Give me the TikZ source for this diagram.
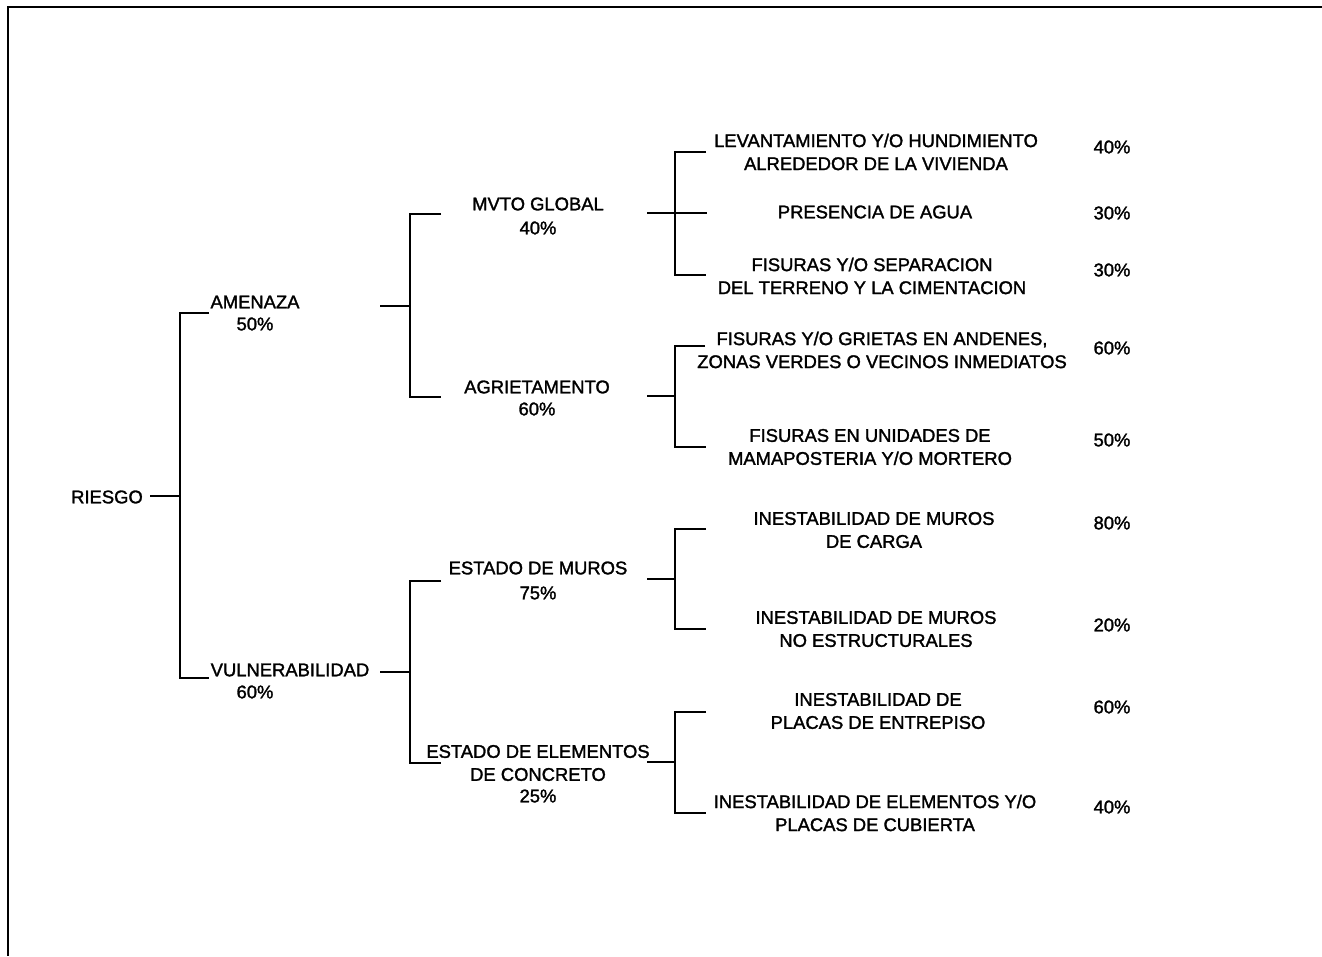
\documentclass[tikz,border=0pt]{standalone}
\usepackage{fontspec}
\setmainfont{Liberation Sans}
\newfontfamily\heavyfont[FakeBold=1.6]{Liberation Sans}
\begin{document}
\begin{tikzpicture}[x=1pt,y=-1pt,
  lbl/.style={inner sep=0pt,align=center,font=\heavyfont\fontsize{18.4}{23}\selectfont},
  conn/.style={line width=1.2pt},
  frame/.style={line width=2.6pt}]
\useasboundingbox (0,0) rectangle (1322,956);
\draw[frame] (1322,7) -- (8,7) -- (8,956);

% level 0/1
\node[lbl] (riesgo) at (107,497) {RIESGO};
\node[lbl] (amenaza) at (255,302) {AMENAZA};
\node[lbl] (amenaza-p) at (255,324) {50\%};
\node[lbl] (vuln) at (290,670) {VULNERABILIDAD};
\node[lbl] (vuln-p) at (255,692) {60\%};

% level 2
\node[lbl] (mvto) at (538,204) {MVTO GLOBAL};
\node[lbl] (mvto-p) at (538,228) {40\%};
\node[lbl] (agriet) at (537,387) {AGRIETAMENTO};
\node[lbl] (agriet-p) at (537,409) {60\%};
\node[lbl] (muros) at (538,568) {ESTADO DE MUROS};
\node[lbl] (muros-p) at (538,593) {75\%};
\node[lbl] (concreto) at (538,763) {ESTADO DE ELEMENTOS\\DE CONCRETO};
\node[lbl] (concreto-p) at (538,796) {25\%};

% leaves
\node[lbl] (lev) at (876,152) {LEVANTAMIENTO Y/O HUNDIMIENTO\\ALREDEDOR DE LA VIVIENDA};
\node[lbl] (lev-p) at (1112,147) {40\%};
\node[lbl] (agua) at (875,212) {PRESENCIA DE AGUA};
\node[lbl] (agua-p) at (1112,213) {30\%};
\node[lbl] (fis) at (872,276) {FISURAS Y/O SEPARACION\\DEL TERRENO Y LA CIMENTACION};
\node[lbl] (fis-p) at (1112,270) {30\%};
\node[lbl] (gri) at (882,350) {FISURAS Y/O GRIETAS EN ANDENES,\\ZONAS VERDES O VECINOS INMEDIATOS};
\node[lbl] (gri-p) at (1112,348) {60\%};
\node[lbl] (uni) at (870,447) {FISURAS EN UNIDADES DE\\MAMAPOSTERIA Y/O MORTERO};
\node[lbl] (uni-p) at (1112,440) {50\%};
\node[lbl] (car) at (874,530) {INESTABILIDAD DE MUROS\\DE CARGA};
\node[lbl] (car-p) at (1112,523) {80\%};
\node[lbl] (noe) at (876,629) {INESTABILIDAD DE MUROS\\NO ESTRUCTURALES};
\node[lbl] (noe-p) at (1112,625) {20\%};
\node[lbl] (ent) at (878,711) {INESTABILIDAD DE\\PLACAS DE ENTREPISO};
\node[lbl] (ent-p) at (1112,707) {60\%};
\node[lbl] (cub) at (875,813) {INESTABILIDAD DE ELEMENTOS Y/O\\PLACAS DE CUBIERTA};
\node[lbl] (cub-p) at (1112,807) {40\%};

% connector ports and junctions
\coordinate (riesgo-out) at (150,496);
\coordinate (j1) at (180,496);
\coordinate (amenaza-in) at (209,313);
\coordinate (vuln-in) at (209,678);

\coordinate (amenaza-out) at (380,306);
\coordinate (j2) at (410,306);
\coordinate (mvto-in) at (441,214);
\coordinate (agriet-in) at (441,397);

\coordinate (vuln-out) at (380,672);
\coordinate (j3) at (410,672);
\coordinate (muros-in) at (441,581);
\coordinate (concreto-in) at (441,763);

\coordinate (mvto-out) at (647,213);
\coordinate (j4) at (675,213);
\coordinate (lev-in) at (706,152);
\coordinate (agua-in) at (707,213);
\coordinate (fis-in) at (706,275);

\coordinate (agriet-out) at (647,396);
\coordinate (j5) at (675,396);
\coordinate (gri-in) at (705,346);
\coordinate (uni-in) at (706,447);

\coordinate (muros-out) at (647,579);
\coordinate (j6) at (675,579);
\coordinate (car-in) at (706,529);
\coordinate (noe-in) at (706,629);

\coordinate (concreto-out) at (647,762);
\coordinate (j7) at (675,762);
\coordinate (ent-in) at (706,712);
\coordinate (cub-in) at (706,813);

% connectors
\draw[conn] (riesgo-out) -- (j1);
\draw[conn] (amenaza-in) -| (j1) |- (vuln-in);

\draw[conn] (amenaza-out) -- (j2);
\draw[conn] (mvto-in) -| (j2) |- (agriet-in);

\draw[conn] (vuln-out) -- (j3);
\draw[conn] (muros-in) -| (j3) |- (concreto-in);

\draw[conn] (mvto-out) -- (agua-in);
\draw[conn] (lev-in) -| (j4) |- (fis-in);

\draw[conn] (agriet-out) -- (j5);
\draw[conn] (gri-in) -| (j5) |- (uni-in);

\draw[conn] (muros-out) -- (j6);
\draw[conn] (car-in) -| (j6) |- (noe-in);

\draw[conn] (concreto-out) -- (j7);
\draw[conn] (ent-in) -| (j7) |- (cub-in);
\end{tikzpicture}
\end{document}
